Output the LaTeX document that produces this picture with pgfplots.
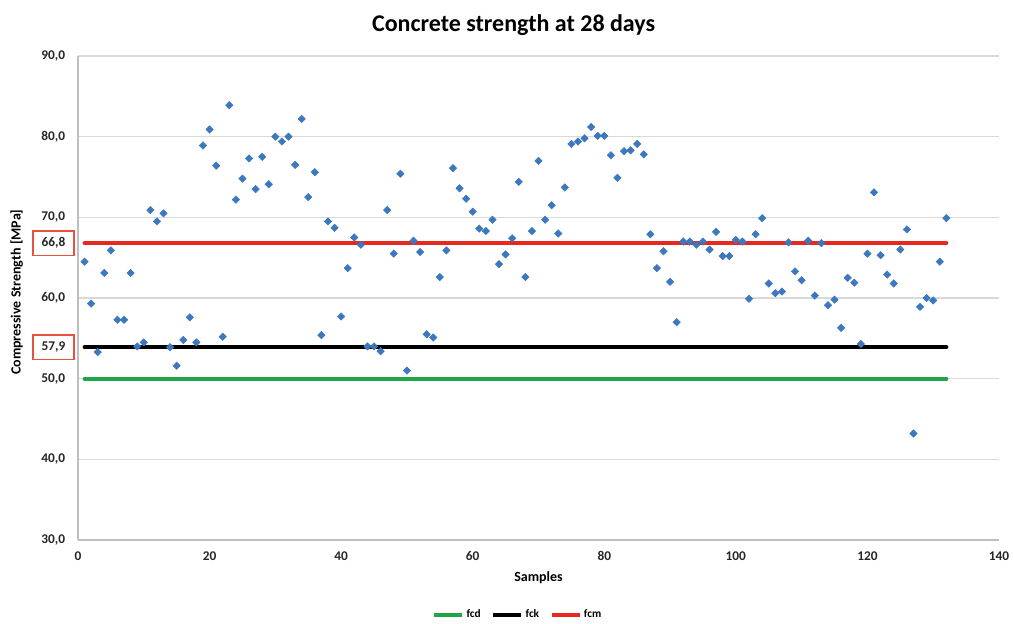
\documentclass[border=0pt]{standalone}
\usepackage{fontspec}
\setmainfont{Carlito}
\usepackage{pgfplots}
\usepackage{pgfplotstable}
\pgfplotsset{compat=1.18}
\definecolor{ptblue}{HTML}{3C78C0}
\definecolor{fcdgreen}{HTML}{1FA548}
\definecolor{fcmred}{HTML}{E8281E}
\definecolor{boxred}{HTML}{E5533F}
\definecolor{gridgray}{HTML}{D9D9D9}
\definecolor{axisgray}{HTML}{BFBFBF}

\pgfplotstableread{
x y
1 64.5
2 59.3
3 53.3
4 63.1
5 65.9
6 57.3
7 57.3
8 63.1
9 54.0
10 54.5
11 70.9
12 69.5
13 70.5
14 53.9
15 51.6
16 54.8
17 57.6
18 54.5
19 78.9
20 80.9
21 76.4
22 55.2
23 83.9
24 72.2
25 74.8
26 77.3
27 73.5
28 77.5
29 74.1
30 80.0
31 79.4
32 80.0
33 76.5
34 82.2
35 72.5
36 75.6
37 55.4
38 69.5
39 68.7
40 57.7
41 63.7
42 67.5
43 66.6
44 54.0
45 54.0
46 53.4
47 70.9
48 65.5
49 75.4
50 51.0
51 67.1
52 65.7
53 55.5
54 55.1
55 62.6
56 65.9
57 76.1
58 73.6
59 72.3
60 70.7
61 68.6
62 68.3
63 69.7
64 64.2
65 65.4
66 67.4
67 74.4
68 62.6
69 68.3
70 77.0
71 69.7
72 71.5
73 68.0
74 73.7
75 79.1
76 79.4
77 79.8
78 81.2
79 80.1
80 80.1
81 77.7
82 74.9
83 78.2
84 78.3
85 79.1
86 77.8
87 67.9
88 63.7
89 65.8
90 62.0
91 57.0
92 67.0
93 67.0
94 66.6
95 67.0
96 66.0
97 68.2
98 65.2
99 65.2
100 67.2
101 67.0
102 59.9
103 67.9
104 69.9
105 61.8
106 60.6
107 60.8
108 66.9
109 63.3
110 62.2
111 67.1
112 60.3
113 66.8
114 59.1
115 59.8
116 56.3
117 62.5
118 61.9
119 54.3
120 65.5
121 73.1
122 65.3
123 62.9
124 61.8
125 66.0
126 68.5
127 43.2
128 58.9
129 60.0
130 59.7
131 64.5
132 69.9
}\samples

\begin{document}
\begin{tikzpicture}
\path[use as bounding box] (-58.5pt,-63pt) rectangle (702pt,405pt);
\begin{axis}[
  at={(0,0)}, anchor=south west,
  width=690.75pt, height=363pt, scale only axis,
  xmin=0, xmax=140, ymin=30, ymax=90,
  xtick={0,20,...,140}, ytick={30,40,...,90},
  axis x line=bottom, axis y line=left,
  axis line style={draw=axisgray, line width=0.9pt, -},
  major tick length=0pt,
  ymajorgrids, grid style={draw=gridgray, line width=1pt},
  /pgf/number format/assume math mode=true,
  tick label style={font=\bfseries\fontsize{10}{12}\selectfont, text=black!85},
  yticklabel style={/pgf/number format/.cd, fixed, fixed zerofill, precision=1, use comma, /tikz/.cd, inner xsep=9.5pt},
  xticklabel style={yshift=-5pt},
  extra y ticks={66.8,53.9},
  extra y tick labels={{66,8},{57,9}},
  extra y tick style={grid=none, yticklabel style={draw=boxred, line width=1.4pt, fill=white, inner xsep=6.5pt, minimum height=18.5pt, xshift=-2.25pt}},
  title={Concrete strength at 28 days},
  every axis title/.style={at={(axis description cs:0.473,1.0634)}, anchor=center, font=\bfseries\fontsize{18}{21}\selectfont},
  xlabel={Samples},
  every axis x label/.style={at={(axis description cs:0.5,-0.0785)}, anchor=center, font=\bfseries\fontsize{10.5}{12}\selectfont},
  ylabel={Compressive Strength [MPa]},
  every axis y label/.style={at={(axis description cs:-0.0666,0.512)}, rotate=90, anchor=center, font=\bfseries\fontsize{10.5}{12}\selectfont},
  legend columns=3,
  legend style={at={(0.478,-0.155)}, anchor=center, draw=none, fill=none,
    font=\bfseries\fontsize{8.5}{10}\selectfont,
    /tikz/every even column/.append style={column sep=6pt}},
  legend image code/.code={\draw[#1, line width=2.6pt, line cap=butt] (0pt,0pt) -- (21pt,0pt);},
]
\addplot[color=fcdgreen, line width=3pt, line cap=round] coordinates {(1,50) (132,50)};
\addlegendentry{fcd}
\addplot[color=black, line width=3pt, line cap=round] coordinates {(1,53.9) (132,53.9)};
\addlegendentry{fck}
\addplot[color=fcmred, line width=3pt, line cap=round] coordinates {(1,66.8) (132,66.8)};
\addlegendentry{fcm}
\addplot[only marks, mark=square*, mark size=1.95pt, mark options={rotate=45, draw=ptblue, fill=ptblue}, forget plot] table[x=x, y=y] {\samples};
\end{axis}
\end{tikzpicture}
\end{document}
